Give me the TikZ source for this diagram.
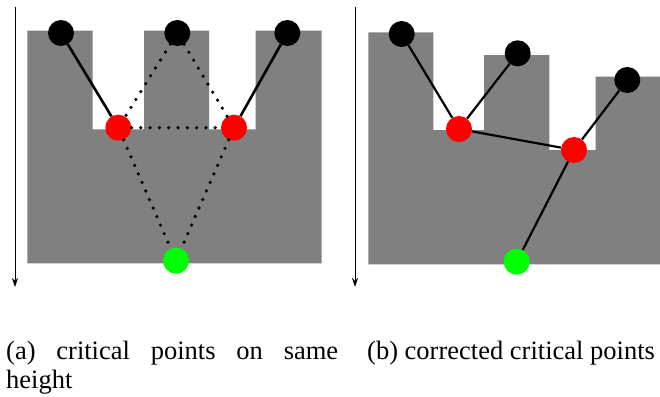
\documentclass[tikz,border=0pt]{standalone}
\usepackage{fontspec}
\setmainfont{Liberation Serif}
\usetikzlibrary{arrows.meta}
\definecolor{blockgray}{HTML}{808080}
\definecolor{critred}{HTML}{FF0000}
\definecolor{sinkgreen}{HTML}{00FF00}
\tikzset{
  pt/.style={circle, inner sep=0pt, minimum size=26pt, draw=none},
  peak/.style={pt, fill=black},
  crit/.style={pt, fill=critred},
  sink/.style={pt, fill=sinkgreen},
  solidlink/.style={draw=black, line width=2.6pt},
  thinlink/.style={draw=black, line width=2.2pt},
  dotlink/.style={draw=black, line width=3.6pt, line cap=round, dash pattern=on 0pt off 9.3pt},
  heightaxis/.style={draw=black, line width=0.9pt, -{Stealth[length=9pt,width=6pt]}},
  caption/.style={inner sep=0pt, font=\rmfamily\fontsize{26.5}{29}\selectfont}
}
\begin{document}
\begin{tikzpicture}[x=1pt, y=-1pt]
\useasboundingbox (0,0) rectangle (660,396);

% ---------- left panel: equal heights ----------
\coordinate (axAtop) at (15,7);
\coordinate (axAbot) at (15,287);
\draw[heightaxis] (axAtop) -- (axAbot);

\fill[blockgray] (27.3,30.7) -- (92.7,30.7) -- (92.7,129.3) -- (144,129.3) -- (144,30.7)
  -- (209,30.7) -- (209,129.3) -- (255.7,129.3) -- (255.7,30.7) -- (321.7,30.7)
  -- (321.7,263.3) -- (27.3,263.3) -- cycle;

\node[peak] (a1) at (61,33) {};
\node[peak] (a2) at (177.3,33) {};
\node[peak] (a3) at (287.3,33) {};
\node[crit] (ar1) at (118.3,127.7) {};
\node[crit] (ar2) at (234,127.7) {};
\node[sink] (ag) at (176,260.7) {};

\draw[solidlink] (a1) -- (ar1);
\draw[solidlink] (a3) -- (ar2);
\draw[dotlink] (a2) -- (ar1);
\draw[dotlink] (a2) -- (ar2);
\draw[dotlink] (ar1) -- (ar2);
\draw[dotlink] (ar1) -- (ag);
\draw[dotlink] (ar2) -- (ag);

% ---------- right panel: corrected heights ----------
\coordinate (axBtop) at (355,7);
\coordinate (axBbot) at (355,287);
\draw[heightaxis] (axBtop) -- (axBbot);

\fill[blockgray] (368.3,32.3) -- (433.3,32.3) -- (433.3,130) -- (484,130) -- (484,55)
  -- (549.3,55) -- (549.3,150) -- (595.7,150) -- (595.7,76.7) -- (660,76.7)
  -- (660,264.3) -- (368.3,264.3) -- cycle;

\node[peak] (b1) at (401.7,34) {};
\node[peak] (b2) at (517.7,53.3) {};
\node[peak] (b3) at (627.3,80) {};
\node[crit] (br1) at (459,129) {};
\node[crit] (br2) at (574,150) {};
\node[sink] (bg) at (516.7,261.7) {};

\draw[thinlink] (b1) -- (br1);
\draw[thinlink] (b2) -- (br1);
\draw[thinlink] (br1) -- (br2);
\draw[thinlink] (b3) -- (br2);
\draw[thinlink] (br2) -- (bg);

% ---------- captions ----------
\node[caption, anchor=base west, text width=332pt, align=left] (capA) at (6,359)
  {(a)\hfill critical\hfill points\hfill on\hfill same\\height};
\node[caption, anchor=base west] (capB) at (367,359) {(b) corrected critical points};
\end{tikzpicture}
\end{document}
